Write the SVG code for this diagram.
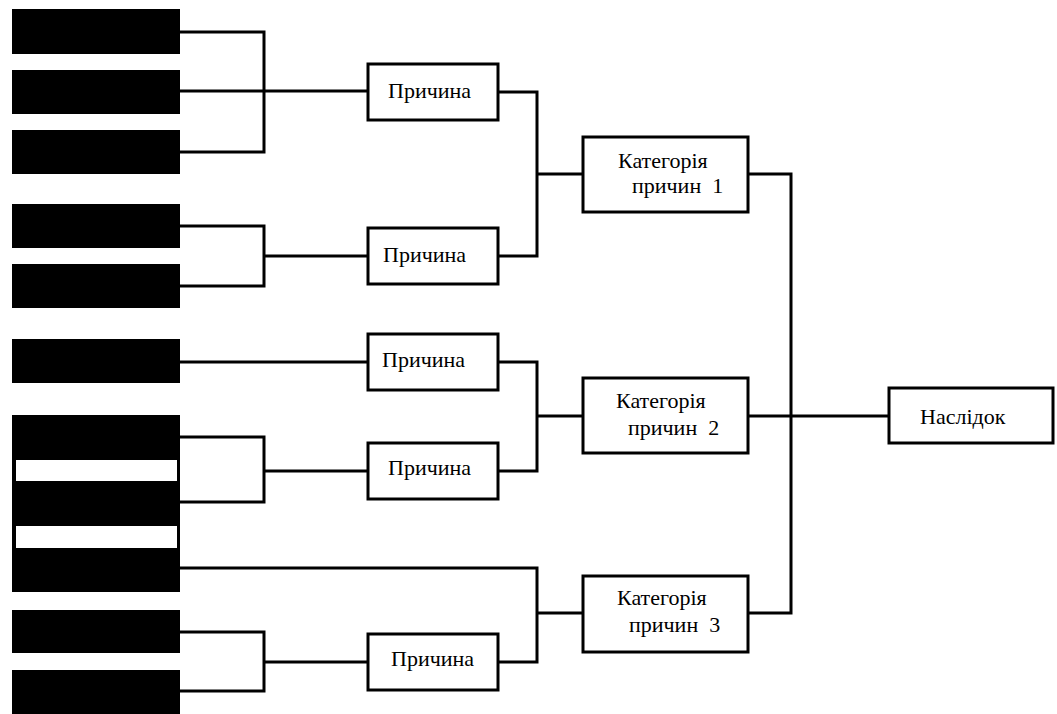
<svg xmlns="http://www.w3.org/2000/svg" width="1057" height="714" viewBox="0 0 1057 714">
<style>
.blk{fill:#000}
.wht{fill:#fff}
.box{fill:#fff;stroke:#000;stroke-width:3}
.ln{fill:none;stroke:#000;stroke-width:3}
.t{font-size:22px;fill:#000}
</style>
<rect width="1057" height="714" fill="#fff"/>
<g id="connectors">
<path class="ln" d="M180,32 H264 V152 H180"/>
<path class="ln" d="M180,91 H368"/>
<path class="ln" d="M180,226 H264 V286 H180"/>
<path class="ln" d="M264,256 H368"/>
<path class="ln" d="M180,362 H368"/>
<path class="ln" d="M180,437 H264 V502 H180"/>
<path class="ln" d="M264,471 H368"/>
<path class="ln" d="M180,568 H537 V662 H498"/>
<path class="ln" d="M180,632 H264 V691 H180"/>
<path class="ln" d="M264,662 H368"/>
<path class="ln" d="M498,92 H537 V256 H498"/>
<path class="ln" d="M537,174 H583"/>
<path class="ln" d="M498,362 H537 V471 H498"/>
<path class="ln" d="M537,416 H583"/>
<path class="ln" d="M537,613 H583"/>
<path class="ln" d="M748,174 H791 V613 H748"/>
<path class="ln" d="M748,416 H889"/>
</g>
<g id="src1"><rect class="blk" x="12" y="9" width="168" height="45"/></g>
<g id="src2"><rect class="blk" x="12" y="70" width="168" height="44"/></g>
<g id="src3"><rect class="blk" x="12" y="130" width="168" height="44"/></g>
<g id="src4"><rect class="blk" x="12" y="204" width="168" height="44"/></g>
<g id="src5"><rect class="blk" x="12" y="264" width="168" height="44"/></g>
<g id="src6"><rect class="blk" x="12" y="339" width="168" height="44"/></g>
<g id="src7">
<rect class="blk" x="12" y="415" width="168" height="177"/>
<rect class="wht" x="16" y="460" width="161" height="21"/>
<rect class="wht" x="16" y="526" width="161" height="22"/>
</g>
<g id="src8"><rect class="blk" x="12" y="610" width="168" height="43"/></g>
<g id="src9"><rect class="blk" x="12" y="670" width="168" height="44"/></g>
<g font-family="Liberation Serif, Tinos, Times New Roman, serif">
<g id="cause1"><rect class="box" x="368" y="64" width="130" height="56"/><text class="t" x="388" y="98">Причина</text></g>
<g id="cause2"><rect class="box" x="368" y="228" width="130" height="56"/><text class="t" x="383" y="262">Причина</text></g>
<g id="cause3"><rect class="box" x="368" y="334" width="130" height="56"/><text class="t" x="382" y="367">Причина</text></g>
<g id="cause4"><rect class="box" x="368" y="443" width="130" height="56"/><text class="t" x="388" y="475">Причина</text></g>
<g id="cause5"><rect class="box" x="368" y="634" width="130" height="56"/><text class="t" x="391" y="666">Причина</text></g>
<g id="cat1"><rect class="box" x="583" y="137" width="165" height="75"/><text class="t" x="618" y="168">Категорія</text><text class="t" x="632" y="193" xml:space="preserve">причин  1</text></g>
<g id="cat2"><rect class="box" x="583" y="378" width="165" height="75"/><text class="t" x="616" y="408">Категорія</text><text class="t" x="628" y="435" xml:space="preserve">причин  2</text></g>
<g id="cat3"><rect class="box" x="583" y="576" width="165" height="76"/><text class="t" x="617" y="605">Категорія</text><text class="t" x="629" y="632" xml:space="preserve">причин  3</text></g>
<g id="effect"><rect class="box" x="889" y="388" width="164" height="55"/><text class="t" x="920" y="424">Наслідок</text></g>
</g>
</svg>
